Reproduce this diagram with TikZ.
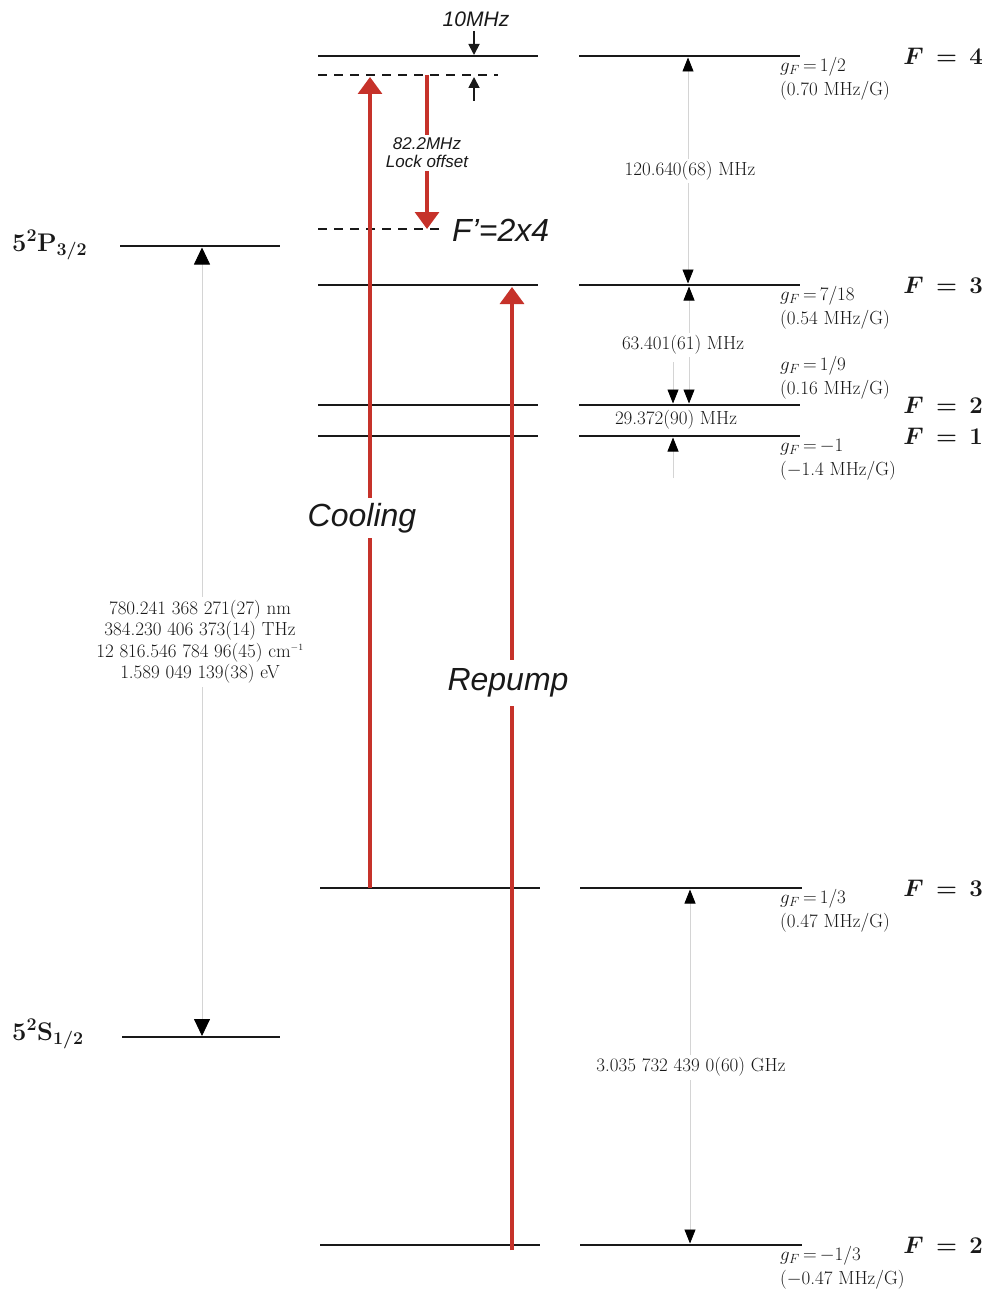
\RequirePackage{fix-cm}
\documentclass[tikz,border=0pt]{standalone}
\usepackage{fontspec}
\newfontfamily\arialfont{Liberation Sans}
\usetikzlibrary{arrows.meta}
\definecolor{laser}{RGB}{198,50,42}
\definecolor{levelcol}{RGB}{25,25,25}
\definecolor{guidecol}{RGB}{212,212,212}
\tikzset{
  level/.style={draw=levelcol, line width=1.8pt},
  dlevel/.style={draw=levelcol, line width=1.8pt, dash pattern=on 9pt off 7pt},
  laserarrow/.style={draw=laser, line width=3.2pt, -{Triangle[length=17pt,width=24pt]}},
  blkarrow/.style={draw=levelcol, line width=1.8pt, -{Triangle[length=11pt,width=11pt]}},
  guide/.style={draw=guidecol, line width=0.8pt},
  ghead/.style={guide, {Triangle[length=14pt,width=11pt,color=black]}-{Triangle[length=14pt,width=11pt,color=black]}},
  gheadone/.style={guide, -{Triangle[length=14pt,width=11pt,color=black]}},
  lhead/.style={guide, {Triangle[length=17pt,width=16pt,color=black]}-{Triangle[length=17pt,width=16pt,color=black]}},
  smalltxt/.style={font=\fontsize{19}{21.5}\selectfont, inner sep=0pt, text=levelcol},
  gflab/.style={smalltxt, anchor=west},
  flab/.style={font=\fontsize{24}{30}\selectfont\boldmath, inner sep=0pt, anchor=east, text=levelcol},
  statelab/.style={font=\fontsize{25.5}{30}\selectfont\boldmath, inner sep=0pt, anchor=base west, text=levelcol},
  bigsans/.style={font=\fontsize{32}{38}\selectfont\arialfont\itshape, text=levelcol},
  midsans/.style={font=\fontsize{21}{25}\selectfont\arialfont\itshape, text=levelcol, inner sep=0pt},
  smallsans/.style={font=\fontsize{17}{20}\selectfont\arialfont\itshape, text=levelcol, align=center}
}
\begin{document}
\begin{tikzpicture}[x=1pt,y=-1pt]
\fill[white] (0,0) rectangle (989,1292);
\useasboundingbox (0,0) rectangle (989,1292);

% ---------- coordinates of levels ----------
\coordinate (lPa) at (120,246); \coordinate (lPb) at (280,246);
\coordinate (lSa) at (122,1037); \coordinate (lSb) at (280,1037);
\coordinate (m4a) at (318,56);  \coordinate (m4b) at (538,56);
\coordinate (m3a) at (318,285); \coordinate (m3b) at (538,285);
\coordinate (m2a) at (318,405); \coordinate (m2b) at (538,405);
\coordinate (m1a) at (318,436); \coordinate (m1b) at (538,436);
\coordinate (g3a) at (320,888); \coordinate (g3b) at (540,888);
\coordinate (g2a) at (320,1245); \coordinate (g2b) at (540,1245);
\coordinate (d1a) at (318,75);  \coordinate (d1b) at (498,75);
\coordinate (d2a) at (318,229); \coordinate (d2b) at (443,229);
\coordinate (r4a) at (579,56);  \coordinate (r4b) at (800,56);
\coordinate (r3a) at (579,285); \coordinate (r3b) at (800,285);
\coordinate (r2a) at (579,405); \coordinate (r2b) at (800,405);
\coordinate (r1a) at (579,436); \coordinate (r1b) at (800,436);
\coordinate (rg3a) at (580,888); \coordinate (rg3b) at (802,888);
\coordinate (rg2a) at (580,1245); \coordinate (rg2b) at (802,1245);

% ---------- guide arrows (behind) ----------
\coordinate (lgTop) at (202,247.5); \coordinate (lgBot) at (202,1036);
\draw[lhead] (lgTop) -- (lgBot);
\coordinate (gA1) at (688,57.5);  \coordinate (gA2) at (688,283.5);
\draw[ghead] (gA1) -- (gA2);
\coordinate (gB1) at (689,286.5); \coordinate (gB2) at (689,403.5);
\draw[ghead] (gB1) -- (gB2);
\coordinate (gC0) at (673,362); \coordinate (gC1) at (673,403.5);
\draw[gheadone] (gC0) -- (gC1);
\coordinate (gC3) at (673,478); \coordinate (gC2) at (673,437.5);
\draw[gheadone] (gC3) -- (gC2);
\coordinate (gD1) at (690,889.5); \coordinate (gD2) at (690,1243.5);
\draw[ghead] (gD1) -- (gD2);

% ---------- levels ----------
\draw[level] (lPa) -- (lPb);
\draw[level] (lSa) -- (lSb);
\draw[level] (m4a) -- (m4b);
\draw[level] (m3a) -- (m3b);
\draw[level] (m2a) -- (m2b);
\draw[level] (m1a) -- (m1b);
\draw[level] (g3a) -- (g3b);
\draw[level] (g2a) -- (g2b);
\draw[dlevel] (d1a) -- (d1b);
\draw[dlevel] (d2a) -- (d2b);
\draw[level] (r4a) -- (r4b);
\draw[level] (r3a) -- (r3b);
\draw[level] (r2a) -- (r2b);
\draw[level] (r1a) -- (r1b);
\draw[level] (rg3a) -- (rg3b);
\draw[level] (rg2a) -- (rg2b);

% ---------- lasers ----------
\coordinate (coolBot) at (370,888); \coordinate (coolTop) at (370,77);
\draw[laserarrow] (coolBot) -- (coolTop);
\node[bigsans, fill=white, inner xsep=1pt, inner ysep=5pt] (coolTxt) at (362,518) {Cooling};

\coordinate (repBot) at (512,1250); \coordinate (repTop) at (512,287);
\draw[laserarrow] (repBot) -- (repTop);
\node[bigsans, fill=white, inner xsep=1pt, inner ysep=9pt] (repTxt) at (508,683) {Repump};

\coordinate (lockTop) at (427,75); \coordinate (lockBot) at (427,229);
\draw[laserarrow] (lockTop) -- (lockBot);
\node[smallsans, fill=white, inner xsep=1pt, inner ysep=3pt] (lockTxt) at (427,153) {82.2MHz\\[-2pt]Lock offset};

\node[font=\fontsize{32}{38}\selectfont\arialfont\itshape, text=levelcol, anchor=west, inner sep=0pt] (fprime) at (452,230) {F’=2x4};

% ---------- 10 MHz ----------
\node[midsans] (tenTxt) at (476,19) {10MHz};
\coordinate (tA) at (474,31);  \coordinate (tB) at (474,55);
\draw[blkarrow] (tA) -- (tB);
\coordinate (tC) at (474,101); \coordinate (tD) at (474,77);
\draw[blkarrow] (tC) -- (tD);

% ---------- state labels ----------
\node[statelab] (Plab) at (12,251) {$\mathbf{5^2P_{3/2}}$};
\node[statelab] (Slab) at (12,1040) {$\mathbf{5^2S_{1/2}}$};

% ---------- transition text ----------
\node[smalltxt, align=center, fill=white, inner ysep=3pt] (trans) at (200,642)
  {780.241 368 271(27) nm\\384.230 406 373(14) THz\\12 816.546 784 96(45) cm$^{\scriptscriptstyle -1}$\\1.589 049 139(38) eV};

% ---------- splitting labels ----------
\node[smalltxt, fill=white, inner ysep=3pt] (s120) at (690,171) {120.640(68) MHz};
\node[smalltxt, fill=white, inner ysep=3pt] (s63) at (683,345) {63.401(61) MHz};
\node[smalltxt, fill=white, inner ysep=2pt] (s29) at (676,420) {29.372(90) MHz};
\node[smalltxt, fill=white, inner ysep=3pt] (s3g) at (691,1067) {3.035 732 439 0(60) GHz};

% ---------- g-factor labels ----------
\node[gflab] (gf4) at (780,67) {$g_F\,{=}\,1/2$};
\node[gflab] (mf4) at (780,91) {(0.70 MHz/G)};
\node[gflab] (gf3) at (780,296) {$g_F\,{=}\,7/18$};
\node[gflab] (mf3) at (780,320) {(0.54 MHz/G)};
\node[gflab] (gf2) at (780,366) {$g_F\,{=}\,1/9$};
\node[gflab] (mf2) at (780,390) {(0.16 MHz/G)};
\node[gflab] (gf1) at (780,447) {$g_F\,{=}\,{-1}$};
\node[gflab] (mf1) at (780,471) {($-$1.4 MHz/G)};
\node[gflab] (gg3) at (780,899) {$g_F\,{=}\,1/3$};
\node[gflab] (mg3) at (780,923) {(0.47 MHz/G)};
\node[gflab] (gg2) at (780,1256) {$g_F\,{=}\,{-1/3}$};
\node[gflab] (mg2) at (780,1280) {($-$0.47 MHz/G)};

% ---------- F labels ----------
\node[flab] (F4) at (983,56) {$F\mathrel{\,=\,}4$};
\node[flab] (F3) at (983,285) {$F\mathrel{\,=\,}3$};
\node[flab] (F2) at (983,405) {$F\mathrel{\,=\,}2$};
\node[flab] (F1) at (983,436) {$F\mathrel{\,=\,}1$};
\node[flab] (G3) at (983,888) {$F\mathrel{\,=\,}3$};
\node[flab] (G2) at (983,1245) {$F\mathrel{\,=\,}2$};
\end{tikzpicture}
\end{document}
